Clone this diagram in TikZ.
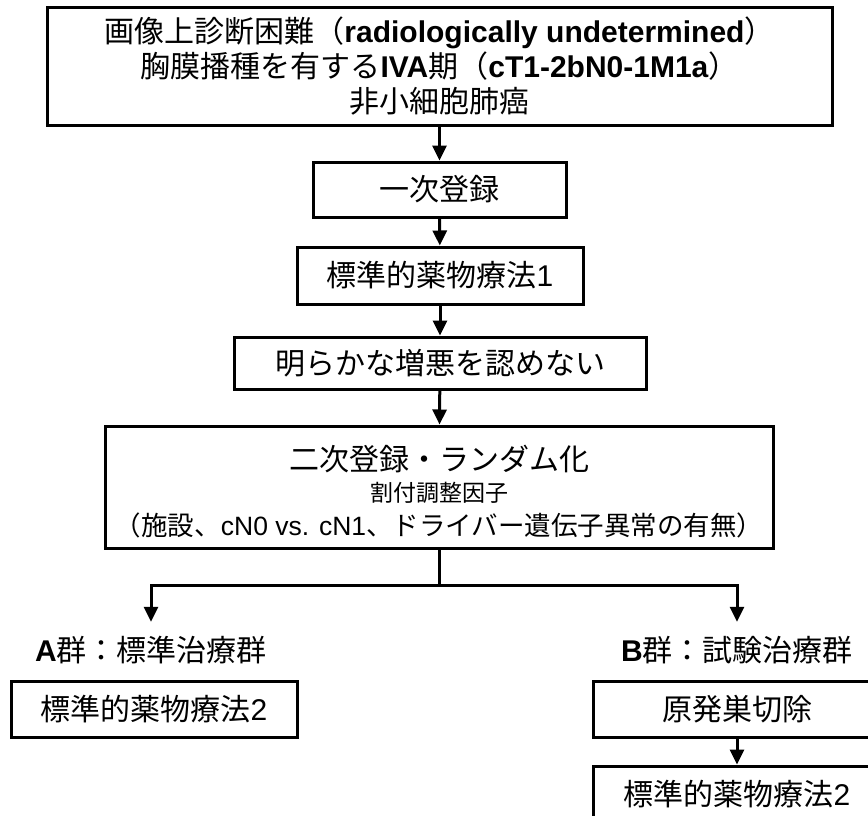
\documentclass[tikz,border=0pt]{standalone}
\usepackage{fontspec}
\setmainfont{Noto Sans CJK JP}
\newfontfamily\lat{Liberation Sans}
\usetikzlibrary{arrows.meta}
\newcommand{\la}[1]{{\lat #1}}
\newcommand{\lb}[1]{{\lat\bfseries #1}}
\tikzset{
  box/.style={draw=black, line width=3pt, rectangle, inner sep=0pt, align=center,
              font=\fontsize{30}{35}\selectfont},
  txt/.style={inner sep=0pt, align=center},
  conn/.style={line width=3pt, -{Triangle[width=14pt,length=15pt]}},
  plain/.style={line width=3pt},
}
\begin{document}
\begin{tikzpicture}[x=1pt,y=-1pt]
\useasboundingbox (0,0) rectangle (868,816);
\node[box, minimum width=785pt, minimum height=117pt] (top) at (439.5,66.5)
  {画像上診断困難（\lb{radiologically undetermined}）\\
   胸膜播種を有する\lb{IVA}期（\lb{cT1-2bN0-1M1a}）\\
   非小細胞肺癌};
\node[box, minimum width=253pt, minimum height=55pt] (reg1) at (439.5,189.5) {一次登録};
\node[box, minimum width=286pt, minimum height=57pt] (chem1) at (440,275.5) {標準的薬物療法\la{1}};
\node[box, minimum width=412pt, minimum height=52pt] (nopd) at (440,363) {明らかな増悪を認めない};
\node[box, minimum width=668pt, minimum height=122pt] (reg2) at (439,487) {};
\node[txt, font=\fontsize{30}{34}\selectfont] (r2a) at (439,459) {二次登録・ランダム化};
\node[txt, font=\fontsize{23}{26}\selectfont] (r2b) at (439,493) {割付調整因子};
\node[txt, font=\fontsize{26.5}{30}\selectfont] (r2c) at (439,525) {（施設、\la{cN0 vs. cN1}、ドライバー遺伝子異常の有無）};
\coordinate (split) at (439,585);
\coordinate (sa) at (151,585);
\coordinate (sb) at (737,585);
\node[txt, minimum height=56pt, font=\fontsize{30}{34}\selectfont] (ga) at (151,650) {\lb{A}群：標準治療群};
\node[txt, minimum height=56pt, font=\fontsize{30}{34}\selectfont] (gb) at (737,650) {\lb{B}群：試験治療群};
\node[box, minimum width=286pt, minimum height=56pt] (chemA) at (154,709) {標準的薬物療法\la{2}};
\node[box, minimum width=288pt, minimum height=56pt] (surgB) at (737,709) {原発巣切除};
\node[box, minimum width=288pt, minimum height=56pt] (chemB) at (737,794) {標準的薬物療法\la{2}};
\draw[conn] (top.south -| reg1.north) -- (reg1.north);
\draw[conn] (reg1) -- (chem1);
\draw[conn] (chem1) -- (nopd);
\draw[conn] (nopd) -- (reg2);
\draw[plain] (reg2.south) -- (split);
\draw[plain] (sa) -- (sb);
\draw[conn] ([xshift=-1.5pt]sa) -- (sa) -- (ga.north);
\draw[conn] ([xshift=1.5pt]sb) -- (sb) -- (gb.north);
\draw[conn] (surgB) -- (chemB);
\end{tikzpicture}
\end{document}
